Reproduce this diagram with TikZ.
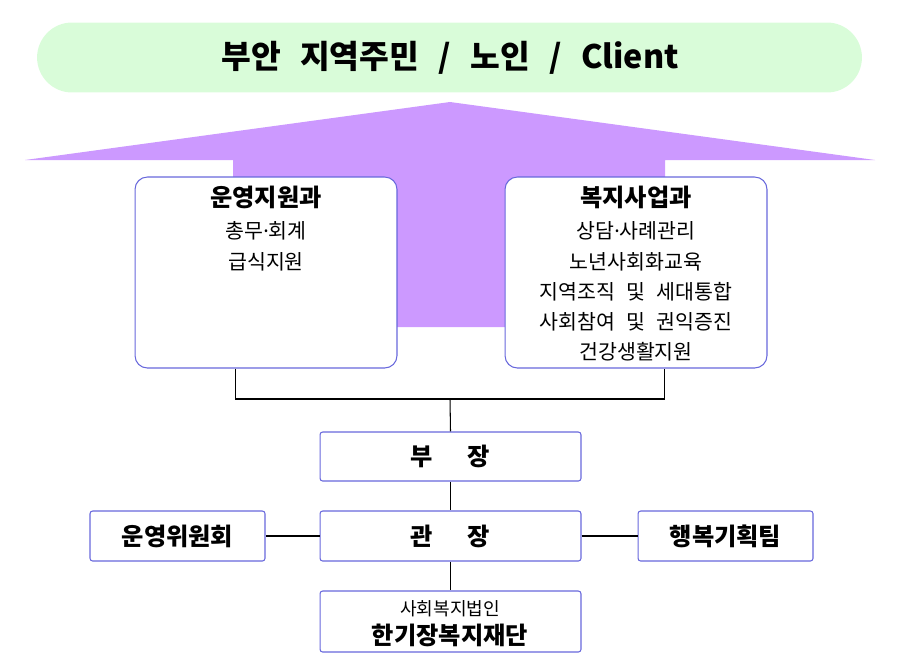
\documentclass[tikz,border=0pt]{standalone}
\usepackage{fontspec}
\setmainfont{Noto Sans CJK KR}
\newfontfamily\latinf{Noto Sans}
\definecolor{bordc}{RGB}{104,104,220}
\definecolor{bannerc}{RGB}{217,252,217}
\definecolor{arrowc}{RGB}{204,153,255}
\newcommand{\wsp}{\hspace{0.55em}}
\newcommand{\mdot}{{\latinf ·}}
\begin{document}
\begin{tikzpicture}[x=0.02cm,y=-0.02cm,
  box/.style={draw=bordc, fill=white, line width=0.6pt, rounded corners=1.5pt, inner sep=0pt},
  bigbox/.style={draw=bordc, fill=white, line width=0.6pt, rounded corners=7pt, inner sep=0pt},
  conn/.style={draw=black, line width=0.6pt},
  hd/.style={inner sep=0pt, font=\fontsize{13.8}{16}\selectfont\bfseries},
  bd/.style={inner sep=0pt, font=\fontsize{11.7}{14}\selectfont},
  sm/.style={inner sep=0pt, font=\fontsize{10.3}{12}\selectfont},
]
\useasboundingbox (0,0) rectangle (911,670);
% banner
\node[fill=bannerc, rounded corners=0.7cm, minimum width=16.5cm, minimum height=1.4cm, inner sep=0pt] (banner) at (449.5,57.5) {};
\node[inner sep=0pt, font=\fontsize{18.4}{21}\selectfont\bfseries] (bannertxt) at (450,58) {부안\hspace{0.6em}지역주민\hspace{0.6em}/\hspace{0.6em}노인\hspace{0.6em}/\hspace{0.6em}Client};
% big arrow
\fill[arrowc] (450,102) -- (875,160) -- (665,160) -- (665,327) -- (233,327) -- (233,160) -- (25,160) -- cycle;
% department boxes
\node[bigbox, minimum width=5.24cm, minimum height=3.82cm] (opbox) at (266,272.5) {};
\node[bigbox, minimum width=5.24cm, minimum height=3.82cm] (welbox) at (636,272.5) {};
\node[hd] (optitle) at (266,197) {운영지원과};
\node[bd] (op1) at (266,231) {총무\mdot 회계};
\node[bd] (op2) at (266,262) {급식지원};
\node[hd] (weltitle) at (636,197) {복지사업과};
\node[bd] (wel1) at (636,231) {상담\mdot 사례관리};
\node[bd] (wel2) at (636,262) {노년사회화교육};
\node[bd] (wel3) at (636,292) {지역조직\wsp 및\wsp 세대통합};
\node[bd] (wel4) at (636,322) {사회참여\wsp 및\wsp 권익증진};
\node[bd] (wel5) at (636,352) {건강생활지원};
% lower boxes
\node[box, minimum width=5.22cm, minimum height=0.98cm] (bujang) at (450.5,456.5) {};
\node[hd] (bujangtxt) at (450,456) {부\hspace{1.45em}장};
\node[box, minimum width=5.22cm, minimum height=1.0cm] (gwanjang) at (450.5,536) {};
\node[hd] (gwanjangtxt) at (450,536) {관\hspace{1.45em}장};
\node[box, minimum width=3.5cm, minimum height=1.0cm] (committee) at (177.5,536) {};
\node[hd] (committeetxt) at (177.5,536) {운영위원회};
\node[box, minimum width=3.5cm, minimum height=1.0cm] (team) at (725.5,536) {};
\node[hd] (teamtxt) at (725.5,536) {행복기획팀};
\node[box, minimum width=5.22cm, minimum height=1.22cm] (found) at (450.5,621.5) {};
\node[sm] (found1) at (450,609) {사회복지법인};
\node[hd] (found2) at (450,635) {한기장복지재단};
% connectors
\coordinate (junc) at (450,399);
\draw[conn] ([xshift=2.02cm]opbox.south west) |- (junc) -| ([xshift=3.2cm]welbox.south west);
\draw[conn] (junc) -- (bujang.north);
\draw[conn] (bujang.south) -- (gwanjang.north);
\draw[conn] (gwanjang.west) -- (committee.east);
\draw[conn] (gwanjang.east) -- (team.west);
\draw[conn] (gwanjang.south) -- (found.north);
\end{tikzpicture}
\end{document}
